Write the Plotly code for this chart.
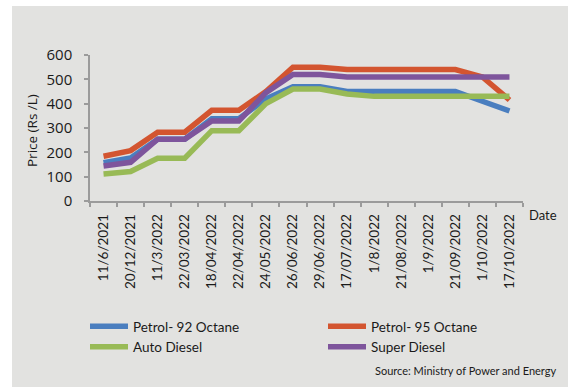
import plotly.graph_objects as go

# Fuel prices in Sri Lanka (Rs per litre) at each price revision date
dates = ["11/6/2021", "20/12/2021", "11/3/2022", "22/03/2022", "18/04/2022",
         "22/04/2022", "24/05/2022", "26/06/2022", "29/06/2022", "17/07/2022",
         "1/8/2022", "21/08/2022", "1/9/2022", "21/09/2022", "1/10/2022",
         "17/10/2022"]
petrol_92 = [157, 177, 254, 254, 338, 338, 420, 470, 470, 450, 450, 450, 450, 450, 410, 370]
petrol_95 = [184, 207, 283, 283, 373, 373, 450, 550, 550, 540, 540, 540, 540, 540, 510, 415]
auto_diesel = [111, 121, 176, 176, 289, 289, 400, 460, 460, 440, 430, 430, 430, 430, 430, 430]
super_diesel = [144, 159, 254, 254, 329, 329, 445, 520, 520, 510, 510, 510, 510, 510, 510, 510]
y_ticks = [0, 100, 200, 300, 400, 500, 600]

W, H = 568, 387
ML, MR, MT, MB = 90, 45, 55, 186
PW, PH = W - ML - MR, H - MT - MB


def px_x(p):
    return (p - ML) / PW


def px_y(p):
    return (H - MB - p) / PH


TEXT_FONT = "Lato"
NUM_FONT = "Open Sans"
BG = "#e2e2e0"
AXIS = "#9b9b9b"

series = [
    ("Petrol- 92 Octane", petrol_92, "#4a7ebf", "legend"),
    ("Petrol- 95 Octane", petrol_95, "#d35530", "legend2"),
    ("Auto Diesel", auto_diesel, "#98ba56", "legend"),
    ("Super Diesel", super_diesel, "#7e559c", "legend2"),
]

fig = go.Figure()
for name, vals, color, leg in series:
    fig.add_trace(go.Scatter(
        x=dates, y=vals, name=name, mode="lines",
        line=dict(color=color, width=5.5),
        legend=leg,
    ))

legend_common = dict(
    orientation="v",
    bgcolor="rgba(0,0,0,0)",
    font=dict(family=TEXT_FONT, size=13.5, color="#1a1a1a"),
    xanchor="left", yanchor="top",
    tracegroupgap=0, itemwidth=38,
    traceorder="normal",
)

fig.update_layout(
    width=W, height=H,
    margin=dict(l=ML, r=MR, t=MT, b=MB),
    paper_bgcolor="white",
    plot_bgcolor=BG,
    showlegend=True,
    legend=dict(x=px_x(85), y=px_y(311), **legend_common),
    legend2=dict(x=px_x(323), y=px_y(311), **legend_common),
    xaxis=dict(
        type="category",
        tickangle=-90,
        tickson="boundaries",
        ticks="outside", ticklen=4, tickcolor=AXIS, tickwidth=1.5,
        showline=True, linecolor=AXIS, linewidth=1.5,
        showgrid=False, zeroline=False,
        tickfont=dict(family=TEXT_FONT, size=13.5, color="#1a1a1a"),
        ticklabelstandoff=6,
        range=[-0.5, len(dates) - 0.5],
    ),
    yaxis=dict(
        range=[0, 600],
        tickvals=y_ticks,
        ticks="outside", ticklen=4, tickcolor=AXIS, tickwidth=1.5,
        showline=True, linecolor=AXIS, linewidth=1.5,
        showgrid=False, zeroline=False,
        tickfont=dict(family=NUM_FONT, size=15, color="#1a1a1a"),
        ticklabelstandoff=9,
    ),
    shapes=[dict(
        type="rect", xref="paper", yref="paper", layer="below",
        x0=px_x(12), x1=px_x(W + 2), y0=px_y(H + 2), y1=px_y(6),
        fillcolor=BG, line=dict(width=0),
    )],
    annotations=[
        dict(text="Price (Rs /L)", textangle=-90, xref="paper", yref="paper",
             x=px_x(32), y=px_y(131), xanchor="center", yanchor="middle",
             showarrow=False, font=dict(family=NUM_FONT, size=13.5, color="#1a1a1a")),
        dict(text="Date", xref="paper", yref="paper",
             x=px_x(527), y=px_y(215), xanchor="left", yanchor="middle",
             showarrow=False, font=dict(family=TEXT_FONT, size=13, color="#1a1a1a")),
        dict(text="Source: Ministry of Power and Energy", xref="paper", yref="paper",
             x=px_x(558), y=px_y(371), xanchor="right", yanchor="middle",
             showarrow=False, font=dict(family=TEXT_FONT, size=11, color="#1a1a1a")),
    ],
)

fig.write_html("out.html")
